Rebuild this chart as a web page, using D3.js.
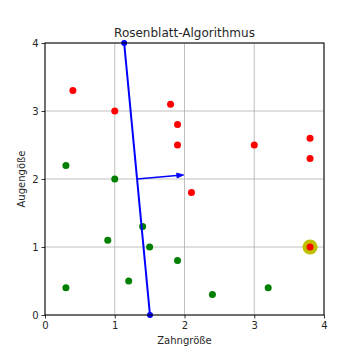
<!DOCTYPE html>
<html><head><meta charset="utf-8">
<script src="https://cdn.jsdelivr.net/npm/d3@7"></script>
<style>body{margin:0;background:#fff}svg{display:block}text{font-family:"DejaVu Sans",sans-serif;fill:#262626}</style>
</head><body><svg id="c" width="360" height="360"></svg>
<script>
const redX = [0.4, 1.0, 1.8, 1.9, 1.9, 2.1, 3.0, 3.8, 3.8, 3.8];
const redY = [3.3, 3.0, 3.1, 2.8, 2.5, 1.8, 2.5, 2.6, 2.3, 1.0];
const greenX = [0.3, 1.0, 0.9, 1.4, 1.5, 1.9, 1.2, 0.3, 2.4, 3.2];
const greenY = [2.2, 2.0, 1.1, 1.3, 1.0, 0.8, 0.5, 0.4, 0.3, 0.4];
const highlight = [3.8, 1.0];
const lineX = [1.135, 1.505];
const lineY = [4, 0];
const arrowFrom = [1.32, 2.0];
const arrowTo = [1.99, 2.06];
const ticks = [0, 1, 2, 3, 4];

const svg = d3.select("#c");
const x = d3.scaleLinear().domain([0,4]).range([45, 324]);
const y = d3.scaleLinear().domain([0,4]).range([315, 43]);

// grid
svg.append("g").selectAll("line").data(ticks).join("line")
  .attr("x1", d=>x(d)).attr("x2", d=>x(d)).attr("y1", y(0)).attr("y2", y(4))
  .attr("stroke","#b0b0b0").attr("stroke-width",0.8);
svg.append("g").selectAll("line").data(ticks).join("line")
  .attr("y1", d=>y(d)).attr("y2", d=>y(d)).attr("x1", x(0)).attr("x2", x(4))
  .attr("stroke","#b0b0b0").attr("stroke-width",0.8);

// points
svg.append("g").selectAll("circle").data(greenX.map((d,i)=>[d,greenY[i]])).join("circle")
  .attr("cx", d=>x(d[0])).attr("cy", d=>y(d[1])).attr("r",3.5).attr("fill","#008000");
svg.append("circle").attr("cx", x(highlight[0])).attr("cy", y(highlight[1])).attr("r",7.5).attr("fill","#bfbf00");
svg.append("g").selectAll("circle").data(redX.map((d,i)=>[d,redY[i]])).join("circle")
  .attr("cx", d=>x(d[0])).attr("cy", d=>y(d[1])).attr("r",3.5).attr("fill","#ff0000");

// separating line
const lineData = lineX.map((d,i)=>[d,lineY[i]]);
svg.append("path").attr("d", d3.line().x(d=>x(d[0])).y(d=>y(d[1]))(lineData))
  .attr("stroke","#0000ff").attr("stroke-width",2).attr("fill","none");
svg.append("g").selectAll("circle").data(lineData).join("circle")
  .attr("cx", d=>x(d[0])).attr("cy", d=>y(d[1])).attr("r",3).attr("fill","#0000ff");

// arrow
const x0 = x(arrowFrom[0]), y0 = y(arrowFrom[1]), x1 = x(arrowTo[0]), y1 = y(arrowTo[1]);
const ang = Math.atan2(y1-y0, x1-x0);
const hl = 7, hw = 2.5;
const bx = x1 - hl*Math.cos(ang), by = y1 - hl*Math.sin(ang);
svg.append("line").attr("x1",x0).attr("y1",y0).attr("x2",bx).attr("y2",by)
  .attr("stroke","#0000ff").attr("stroke-width",1.4);
svg.append("path").attr("d", `M${x1},${y1}L${bx - hw*Math.sin(ang)},${by + hw*Math.cos(ang)}L${bx + hw*Math.sin(ang)},${by - hw*Math.cos(ang)}Z`)
  .attr("fill","#0000ff").attr("stroke","#0000ff").attr("stroke-width",0.8);

// frame
svg.append("rect").attr("x", x(0)).attr("y", y(4)).attr("width", x(4)-x(0)).attr("height", y(0)-y(4))
  .attr("fill","none").attr("stroke","#000").attr("stroke-width",1);

// axes
const ax = svg.append("g").attr("transform",`translate(0,${y(0)})`)
  .call(d3.axisBottom(x).tickValues(ticks).tickFormat(d3.format("d")).tickSize(3.5).tickPadding(3));
const ay = svg.append("g").attr("transform",`translate(${x(0)},0)`)
  .call(d3.axisLeft(y).tickValues(ticks).tickFormat(d3.format("d")).tickSize(3.5).tickPadding(3));
[ax, ay].forEach(g=>{
  g.select(".domain").remove();
  g.selectAll("line").attr("stroke","#000").attr("stroke-width",0.8);
  g.selectAll("text").attr("font-size",10).attr("font-family","DejaVu Sans").attr("fill","#262626");
});

svg.append("text").attr("x", (x(0)+x(4))/2).attr("y", 37).attr("text-anchor","middle")
  .attr("font-size",12).text("Rosenblatt-Algorithmus");
svg.append("text").attr("x", (x(0)+x(4))/2).attr("y", 344).attr("text-anchor","middle")
  .attr("font-size",10).text("Zahngröße");
svg.append("text").attr("transform",`translate(25,${(y(0)+y(4))/2}) rotate(-90)`).attr("text-anchor","middle")
  .attr("font-size",10).text("Augengöße");
</script></body></html>
